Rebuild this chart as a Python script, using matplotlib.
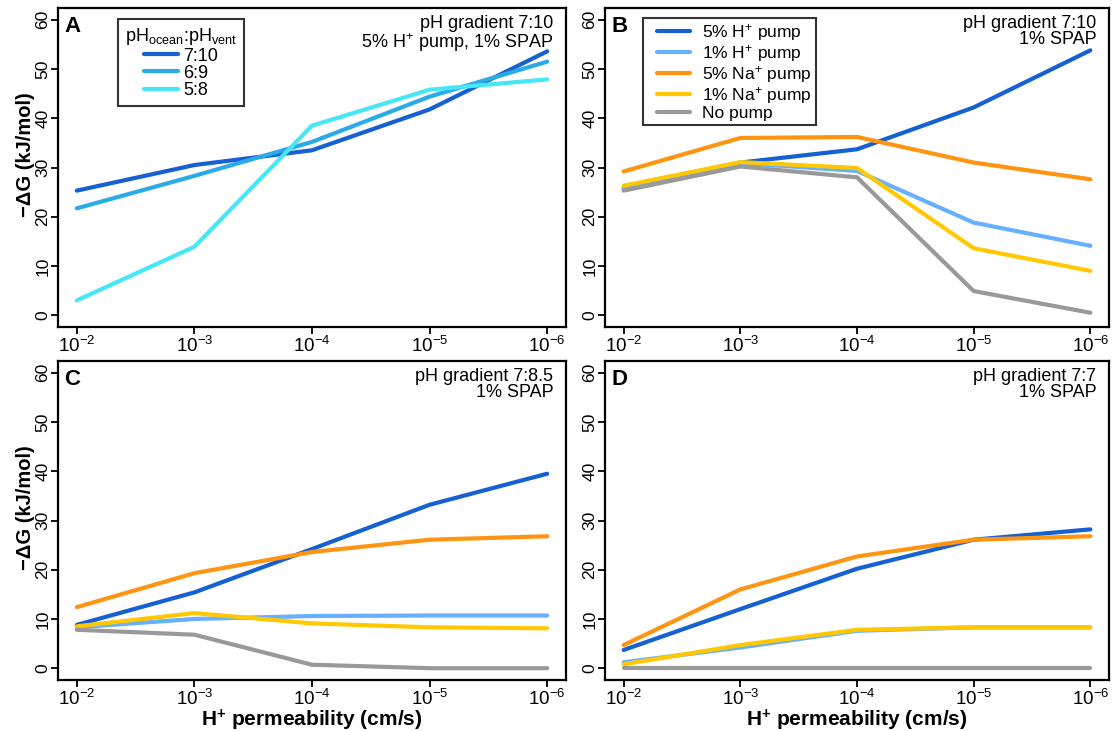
import matplotlib
matplotlib.use("Agg")
import matplotlib.pyplot as plt
from matplotlib.legend_handler import HandlerLine2D
import numpy as np

plt.rcParams['font.family'] = ['Liberation Sans', 'DejaVu Sans']
plt.rcParams['mathtext.fontset'] = 'custom'
plt.rcParams['mathtext.rm'] = 'Liberation Sans'
plt.rcParams['mathtext.it'] = 'Liberation Sans:italic'
plt.rcParams['mathtext.bf'] = 'Liberation Sans:bold'

# ---- data ----
permeability_labels = [r'$10^{-2}$', r'$10^{-3}$', r'$10^{-4}$', r'$10^{-5}$', r'$10^{-6}$']

# Panel A: different pH gradients (5% H+ pump, 1% SPAP)
gradient_labels = ['7:10', '6:9', '5:8']
a_7_10 = [25.3, 30.5, 33.5, 41.8, 53.6]
a_6_9 = [21.7, 28.3, 35.2, 44.4, 51.5]
a_5_8 = [3.0, 13.9, 38.5, 45.8, 47.9]

pump_labels = [r'5% H$^{+}$ pump', r'1% H$^{+}$ pump', r'5% Na$^{+}$ pump',
               r'1% Na$^{+}$ pump', 'No pump']

# Panel B: pH gradient 7:10
b_h5 = [25.6, 31.0, 33.7, 42.2, 53.8]
b_h1 = [25.9, 30.9, 29.3, 18.8, 14.1]
b_na5 = [29.2, 36.0, 36.2, 31.0, 27.6]
b_na1 = [26.3, 31.1, 29.9, 13.6, 9.0]
b_none = [25.3, 30.2, 28.0, 4.9, 0.5]

# Panel C: pH gradient 7:8.5
c_h5 = [8.8, 15.4, 24.2, 33.2, 39.5]
c_h1 = [8.3, 10.0, 10.6, 10.7, 10.7]
c_na5 = [12.4, 19.3, 23.6, 26.1, 26.8]
c_na1 = [8.5, 11.2, 9.1, 8.3, 8.1]
c_none = [7.8, 6.8, 0.7, 0.0, 0.0]

# Panel D: pH gradient 7:7
d_h5 = [3.7, 12.0, 20.2, 26.1, 28.2]
d_h1 = [1.2, 4.2, 7.6, 8.3, 8.3]
d_na5 = [4.7, 16.0, 22.7, 26.1, 26.8]
d_na1 = [0.8, 4.7, 7.8, 8.3, 8.3]
d_none = [0.0, 0.0, 0.0, 0.0, 0.0]

grad_colors = ['#1560D2', '#2AAAE6', '#45E6F5']
pump_colors = ['#1560D2', '#66B0FF', '#FF9411', '#FFC800', '#999999']

W, H = 1112, 731
fig = plt.figure(figsize=(W / 100, H / 100), dpi=100)

def px_axes(x0, y0, x1, y1):
    return fig.add_axes([x0 / W, 1 - y1 / H, (x1 - x0) / W, (y1 - y0) / H])

axA = px_axes(58, 8, 566, 327)
axB = px_axes(605, 8, 1109, 327)
axC = px_axes(58, 361, 566, 680)
axD = px_axes(605, 361, 1109, 680)

x = np.arange(len(permeability_labels))
LW = 3.0

def style(ax, letter, note, show_ylabel, show_xlabel):
    ax.set_xlim(-0.16, 4.16)
    ax.set_ylim(-2.4, 62.4)
    ax.set_xticks(x)
    ax.set_xticklabels(permeability_labels, fontsize=13.5)
    ax.set_yticks([0, 10, 20, 30, 40, 50, 60])
    ax.set_yticklabels(['0', '10', '20', '30', '40', '50', '60'], fontsize=12.5,
                       rotation=90, va='center')
    ax.tick_params(axis='both', direction='out', length=5, width=1.3, colors='black',
                   top=False, right=False)
    ax.tick_params(axis='x', pad=1.5)
    ax.tick_params(axis='y', pad=0.5)
    for s in ax.spines.values():
        s.set_linewidth(1.6)
        s.set_color('black')
    ax.text(0.012, 0.975, letter, transform=ax.transAxes, fontsize=16,
            fontweight='bold', ha='left', va='top')
    ax.text(0.975, 0.978, note, transform=ax.transAxes, fontsize=13,
            ha='right', va='top', linespacing=0.95)
    if show_ylabel:
        ax.set_ylabel('\u2212\u0394G (kJ/mol)', fontsize=14.5, fontweight='bold')
        ax.yaxis.set_label_coords(-0.063, 0.54)
        ax.yaxis.label.set_va('center')
    if show_xlabel:
        ax.set_xlabel(r'H$^{\mathbf{+}}$ permeability (cm/s)', fontsize=15,
                      fontweight='bold')
        ax.xaxis.set_label_coords(0.5, -0.146)
        ax.xaxis.label.set_va('baseline')

# Panel A
for vals, lab, col in zip([a_7_10, a_6_9, a_5_8], gradient_labels, grad_colors):
    axA.plot(x, vals, color=col, lw=LW, label=lab, solid_capstyle='round')
style(axA, 'A', 'pH gradient 7:10\n5% H$^{+}$ pump, 1% SPAP', True, False)
legA = axA.legend(loc='upper left', bbox_to_anchor=(0.118, 0.965),
                  title=r'pH$_{\mathrm{ocean}}$:pH$_{\mathrm{vent}}$',
                  title_fontsize=13, fontsize=13, frameon=True, fancybox=False,
                  edgecolor='black', handlelength=1.9, handletextpad=0.3,
                  labelspacing=0.01, borderpad=0.4, borderaxespad=0)
legA.get_frame().set_linewidth(1.5)
legA._legend_box.align = 'center'

# Panels B, C, D
for ax, series, letter, note, yl, xl in [
        (axB, [b_h5, b_h1, b_na5, b_na1, b_none], 'B', 'pH gradient 7:10\n1% SPAP', False, False),
        (axC, [c_h5, c_h1, c_na5, c_na1, c_none], 'C', 'pH gradient 7:8.5\n1% SPAP', True, True),
        (axD, [d_h5, d_h1, d_na5, d_na1, d_none], 'D', 'pH gradient 7:7\n1% SPAP', False, True)]:
    for vals, lab, col in zip(series, pump_labels, pump_colors):
        ax.plot(x, vals, color=col, lw=LW, label=lab, solid_capstyle='round')
    style(ax, letter, note, yl, xl)

legB = axB.legend(loc='upper left', bbox_to_anchor=(0.075, 0.97),
                  fontsize=12.5, frameon=True, fancybox=False, edgecolor='black',
                  handlelength=2.45, handletextpad=0.7, labelspacing=0.0,
                  borderpad=0.25, borderaxespad=0,
                  handler_map={matplotlib.lines.Line2D: HandlerLine2D(xpad=0.55)})
legB.get_frame().set_linewidth(1.5)

fig.savefig('out.png', dpi=100, facecolor='white')
